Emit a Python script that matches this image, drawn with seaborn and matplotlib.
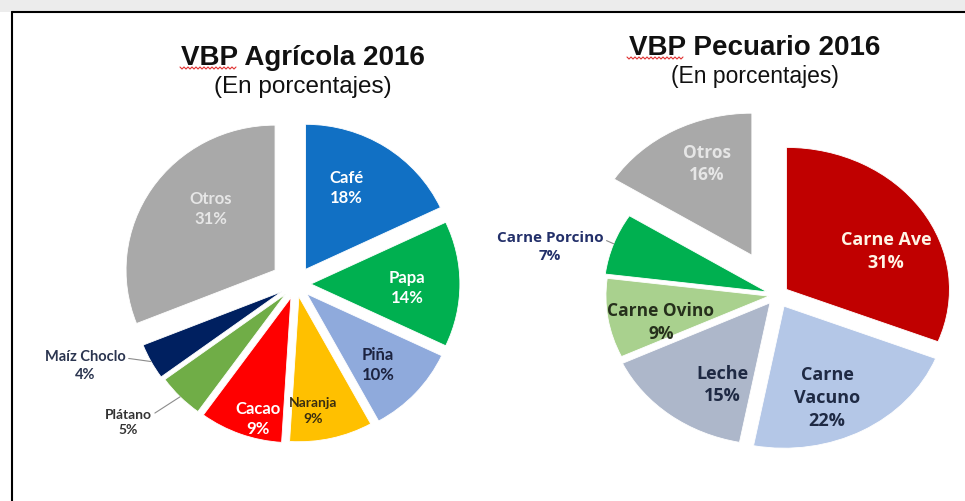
import matplotlib
matplotlib.use('Agg')

import numpy as np
import matplotlib.pyplot as plt
from matplotlib.lines import Line2D
from matplotlib.patches import Rectangle
import seaborn as sns

# --- datos (porcentajes) ---
agri_labels = ['Café', 'Papa', 'Piña', 'Naranja', 'Cacao', 'Plátano', 'Maíz Choclo', 'Otros']
agri_values = [18, 14, 10, 9, 9, 5, 4, 31]

pec_labels = ['Carne Ave', 'Carne\nVacuno', 'Leche', 'Carne Ovino', 'Carne Porcino', 'Otros']
pec_values = [31, 22, 15, 9, 7, 16]

# --- estilos ---
agri_colors = ['#1170C4', '#00B050', '#8FAADC', '#FFC000', '#FF0000', '#70AD47', '#002060', '#A9A9A9']
agri_explode = [0.12, 0.10, 0.10, 0.09, 0.10, 0.10, 0.11, 0.17]
agri_txtcol = ['white', 'white', '#1C2340', '#3A2E10', 'white', '#333333', '#2B3550', '#E6E6E6']
agri_txtpos = [(0.749, 5.7), (0.745, -1.6), (0.779, -1.9), (0.876, -5.1), (0.959, 4.4),
               (1.471, -5.0), (1.522, -7.3), (0.775, -8.4)]
agri_txtsize = [12, 12, 12, 10, 12, 10, 10.5, 12]
agri_outside = [False, False, False, False, False, True, True, False]
agri_font = ['Lato', 'DejaVu Sans']

pec_colors = ['#C00000', '#B4C7E7', '#ADB7CA', '#A9D18E', '#00B050', '#A9A9A9']
pec_explode = [0.07, 0.09, 0.07, 0.05, 0.065, 0.32]
pec_txtcol = ['#FFF5E6', '#1F2A44', '#1F2A44', '#26301C', '#23306A', '#E6E6E6']
pec_txtpos = [(0.737, -9.3), (0.781, -5.7), (0.712, 9.5), (0.737, 5.9), (1.435, 5.9), (1.024, -4.0)]
pec_txtsize = [13, 13, 13, 12.5, 11, 12.5]
pec_outside = [False, False, False, False, True, False]
pec_font = ['Open Sans', 'DejaVu Sans']

W, H = 965, 502

sns.set_theme(style='white')
plt.rcParams['font.family'] = ['Liberation Sans', 'DejaVu Sans']

fig = plt.figure(figsize=(W / 100, H / 100), dpi=100)
fig.patch.set_facecolor('white')


def pie_axes(cx, cy, rx, ry, lim):
    # ejes con 1 unidad = rx (horizontal) / ry (vertical) pixeles, centrados en (cx, cy)
    return fig.add_axes([(cx - lim * rx) / W, 1 - (cy + lim * ry) / H,
                         2 * lim * rx / W, 2 * lim * ry / H])


def draw_pie(ax, labels, values, colors, explode, txtcol, txtpos, txtsize, outside, font, lim):
    wedges, _ = ax.pie(values, colors=colors, explode=explode, startangle=90, counterclock=False,
                       wedgeprops=dict(edgecolor='white', linewidth=0.6))
    total = sum(values)
    for w, lab, v, c, (rr, off), fs, out, ex in zip(wedges, labels, values, txtcol, txtpos,
                                                     txtsize, outside, explode):
        mid = np.deg2rad((w.theta1 + w.theta2) / 2)
        ang = mid + np.deg2rad(off)
        x, y = rr * np.cos(ang), rr * np.sin(ang)
        txt = f"{lab}\n{round(100 * v / total)}%"
        if out:
            edge = ((1 + ex) * np.cos(mid), (1 + ex) * np.sin(mid))
            ax.annotate(txt, xy=edge, xytext=(x, y), ha='center', va='center',
                        fontsize=fs, color=c, fontweight='bold', family=font, linespacing=1.3,
                        arrowprops=dict(arrowstyle='-', color='#8C8C8C', lw=0.8,
                                        relpos=(1.0, 0.72), shrinkA=0, shrinkB=0))
        else:
            ax.text(x, y, txt, ha='center', va='center', fontsize=fs, color=c,
                    fontweight='bold', family=font, linespacing=1.35)
    ax.set_xlim(-lim, lim)
    ax.set_ylim(-lim, lim)
    ax.set_aspect('auto')
    ax.axis('off')


ax1 = pie_axes(296, 285, 149, 145, 1.9)
draw_pie(ax1, agri_labels, agri_values, agri_colors, agri_explode, agri_txtcol,
         agri_txtpos, agri_txtsize, agri_outside, agri_font, 1.9)

ax2 = pie_axes(777, 296, 163, 142, 1.7)
draw_pie(ax2, pec_labels, pec_values, pec_colors, pec_explode, pec_txtcol,
         pec_txtpos, pec_txtsize, pec_outside, pec_font, 1.7)

# titulos
fig.text(303 / W, 1 - 65 / H, 'VBP Agrícola 2016', ha='center', va='baseline',
         fontsize=20, fontweight='bold', color='#111111')
fig.text(303 / W, 1 - 93 / H, '(En porcentajes)', ha='center', va='baseline',
         fontsize=17.5, color='#111111')
fig.text(755 / W, 1 - 55 / H, 'VBP Pecuario 2016', ha='center', va='baseline',
         fontsize=20, fontweight='bold', color='#111111')
fig.text(755 / W, 1 - 83 / H, '(En porcentajes)', ha='center', va='baseline',
         fontsize=16.5, color='#111111')

# subrayado ondulado rojo bajo "VBP"
for x0, x1, yb in [(180, 237, 68), (627, 685, 58)]:
    xs = np.arange(x0, x1, 2.0)
    ys = yb + np.where(np.arange(len(xs)) % 2 == 0, 0, 2)
    fig.add_artist(Line2D(xs / W, 1 - ys / H, transform=fig.transFigure, color='#E03030', lw=0.8))

# marco y franja superior
fig.patches.append(Rectangle((0, 1 - 13 / H), 1, 13 / H, transform=fig.transFigure,
                             facecolor='#ECECEC', edgecolor='none', zorder=0))
fig.add_artist(Line2D([12 / W, 1], [1 - 13 / H, 1 - 13 / H], transform=fig.transFigure,
                      color='black', lw=1.5))
fig.add_artist(Line2D([12 / W, 12 / W], [0, 1 - 13 / H], transform=fig.transFigure,
                      color='black', lw=1.5))

plt.savefig('out.png', dpi=100)
print("saved out.png")
